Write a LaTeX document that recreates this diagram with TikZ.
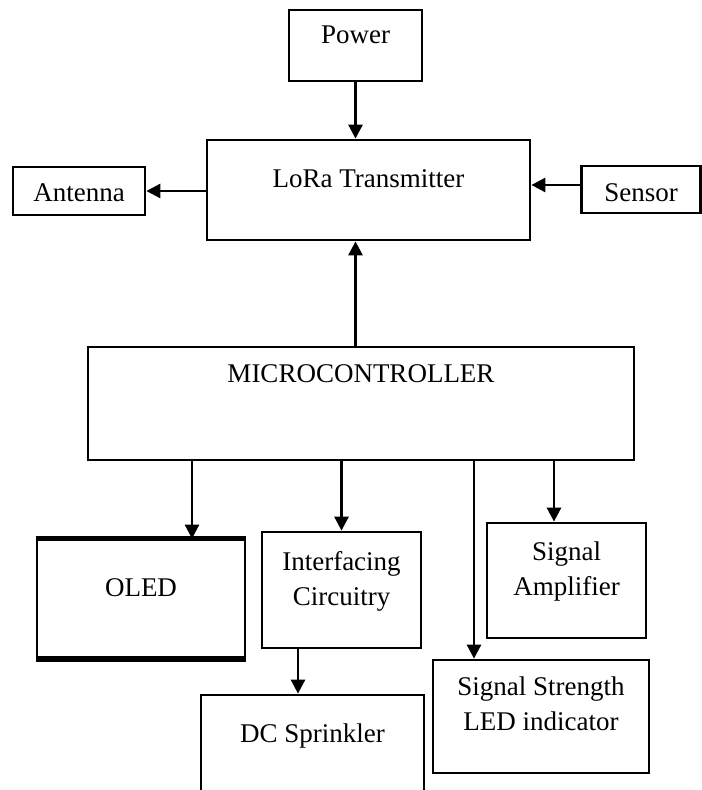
\documentclass[tikz,border=0pt]{standalone}
\usepackage{fontspec}
\setmainfont{Liberation Serif}
\usetikzlibrary{arrows.meta}

\begin{document}
\begin{tikzpicture}[
  x=4pt, y=4pt,
  font=\fontsize{10.8}{14}\selectfont,
  box/.style = {draw=black, line width=1.1pt, inner sep=0pt},
  lbl/.style = {anchor=north, align=center, inner sep=0pt},
  arr/.style = {-{Triangle[length=5.6pt,width=5.6pt]}, draw=black, line width=1.1pt},
]
\useasboundingbox (0,0) rectangle (70.2,-79);
\clip (0,0) rectangle (70.2,-79);

% ---------- top row ----------
\node[box, minimum width=53.2pt, minimum height=28.4pt,
      label={[lbl, yshift=-6.8pt]north:Power}] (power) at (35.55,-4.55) {};
\node[box, minimum width=129.2pt, minimum height=40pt,
      label={[lbl, yshift=-12pt]north:LoRa Transmitter}] (lora) at (36.85,-19) {};
\node[box, minimum width=52.8pt, minimum height=19.2pt,
      label={[lbl, yshift=-7.2pt]north:Antenna}] (antenna) at (7.9,-19.1) {};
\node[box, minimum width=47.6pt, minimum height=18.8pt,
      label={[lbl, yshift=-7.2pt]north:Sensor}] (sensor) at (64.1,-18.95) {};

% ---------- controller ----------
\node[box, minimum width=218.4pt, minimum height=45.2pt,
      label={[lbl, yshift=-7.2pt]north:MICROCONTROLLER}] (micro) at (36.1,-40.35) {};

% ---------- outputs ----------
\node[box, minimum width=83.2pt, minimum height=47.2pt,
      label={[lbl, yshift=-15.6pt]north:OLED}] (oled) at (14.1,-59.9) {};
\node[box, minimum width=63.6pt, minimum height=46.4pt,
      label={[lbl, yshift=-8pt]north:Interfacing\\Circuitry}] (inter) at (34.15,-59) {};
\node[box, minimum width=63.6pt, minimum height=46pt,
      label={[lbl, yshift=-8pt]north:Signal\\Amplifier}] (amp) at (56.65,-58.05) {};
\node[box, minimum width=86.4pt, minimum height=45.2pt,
      label={[lbl, yshift=-7.2pt]north:Signal Strength\\LED indicator}] (led) at (54.1,-71.65) {};
\node[box, minimum width=89.2pt, minimum height=52pt,
      label={[lbl, yshift=-12pt]north:DC Sprinkler}] (dc) at (31.25,-76) {};

% heavier top and bottom edge of the display box
\draw[line width=1.8pt] (oled.north west) -- (oled.north east);
\draw[line width=2.4pt] (oled.south west) -- (oled.south east);

% ---------- taps ----------
\coordinate (tapS) at (0,-18.5);
\coordinate (tapO) at (19.2,0);
\coordinate (tapL) at (47.4,0);
\coordinate (tapA) at (55.4,0);
\coordinate (tapD) at (29.8,0);

% ---------- arrows ----------
\draw[arr] (power.south) -- (lora.north -| power);
\draw[arr] (lora.west |- antenna) -- (antenna.east);
\draw[arr] (sensor.west |- tapS) -- (lora.east |- tapS);
\draw[arr] (micro.north -| power) -- (lora.south -| power);
\draw[arr] (micro.south -| tapO) -- (oled.north -| tapO);
\draw[arr] (micro.south -| inter) -- (inter.north);
\draw[arr] (micro.south -| tapL) -- (led.north -| tapL);
\draw[arr] (micro.south -| tapA) -- (amp.north -| tapA);
\draw[arr] (inter.south -| tapD) -- (dc.north -| tapD);

\end{tikzpicture}
\end{document}
